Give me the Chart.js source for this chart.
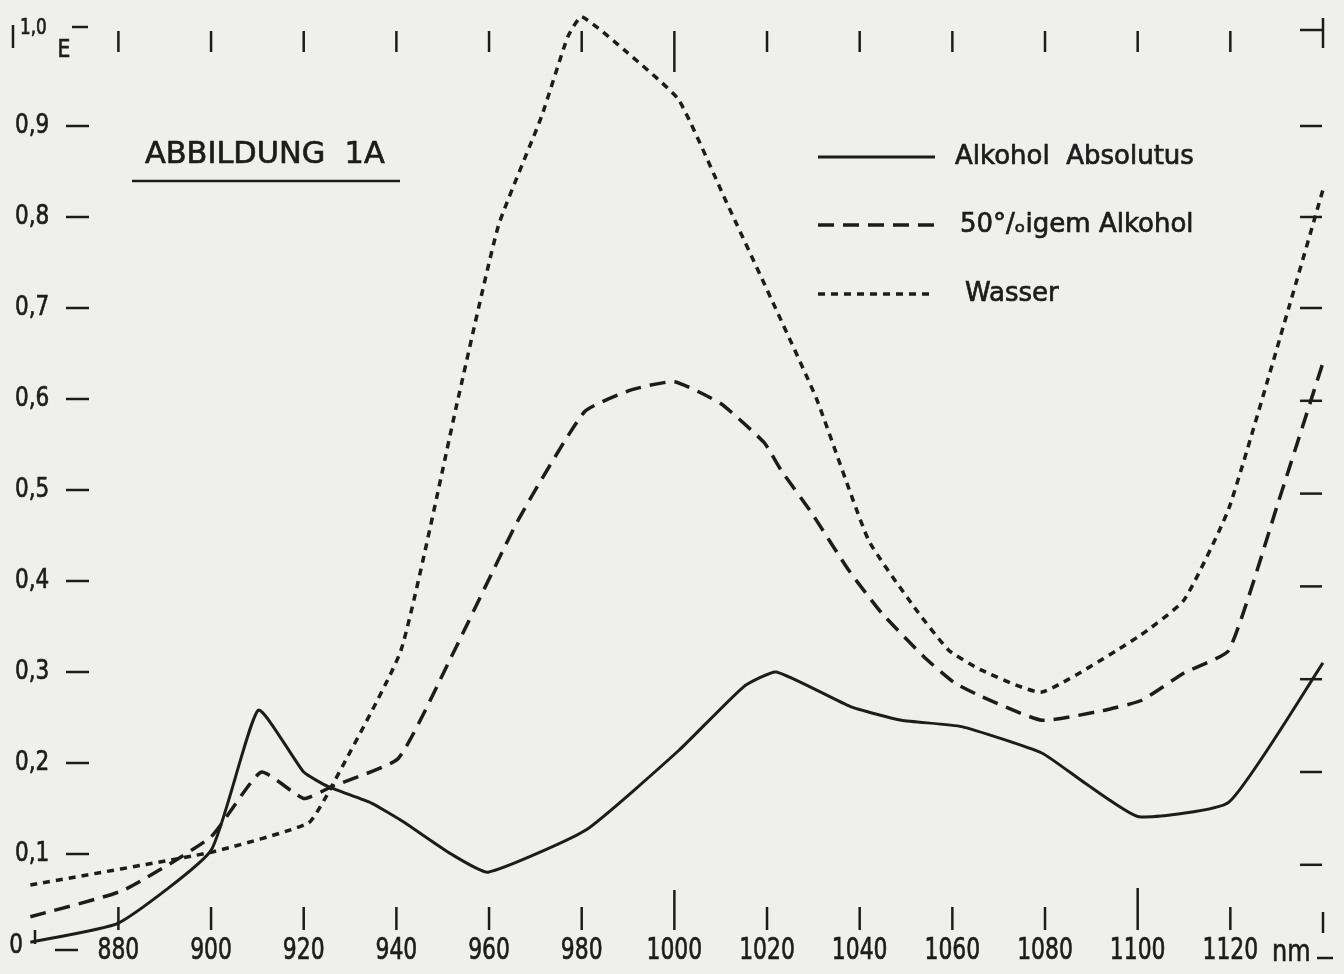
<!DOCTYPE html>
<html>
<head>
<meta charset="utf-8">
<title>Abbildung 1A</title>
<script src="https://cdn.jsdelivr.net/npm/chart.js@4"></script>
<style>
  html, body { margin: 0; padding: 0; background: #efefed; }
  canvas { display: block; }
</style>
</head>
<body>
<canvas id="spectrum-chart" width="1344" height="974"></canvas>
<script>
// Wavelength (nm) and extinction E
const absolutusNm = [861, 880, 900, 910.2, 920, 925.3, 934.6, 941, 951.8, 959.8, 980.8, 1001, 1015, 1022, 1038, 1049, 1062, 1079.3, 1088.6, 1100.2, 1119.7, 1140];
const absolutusE = [0.003, 0.024, 0.104, 0.258, 0.19, 0.174, 0.156, 0.137, 0.10, 0.08, 0.126, 0.214, 0.284, 0.30, 0.262, 0.247, 0.24, 0.211, 0.178, 0.141, 0.157, 0.31];

const halfNm = [861, 881, 900, 910.8, 920, 926, 940.4, 951.8, 966.3, 980.6, 990.7, 1000, 1010, 1019.4, 1023, 1029.6, 1037.6, 1044.7, 1054, 1060.5, 1066.3, 1079.3, 1092.9, 1100.9, 1110, 1119.7, 1130.5, 1140];
const halfE = [0.031, 0.06, 0.119, 0.19, 0.161, 0.174, 0.205, 0.316, 0.467, 0.586, 0.61, 0.619, 0.595, 0.552, 0.522, 0.475, 0.412, 0.365, 0.316, 0.288, 0.273, 0.247, 0.258, 0.269, 0.299, 0.324, 0.489, 0.64];

const wasserNm = [861, 900, 921, 926, 941, 953.3, 962, 971.3, 977, 980, 990, 1000.9, 1011, 1021, 1030.7, 1041.9, 1051.8, 1059.2, 1066.3, 1079.3, 1100.2, 1110, 1119.7, 1132.6, 1140];
const wasserE = [0.066, 0.102, 0.134, 0.174, 0.324, 0.60, 0.79, 0.91, 0.998, 1.02, 0.98, 0.929, 0.819, 0.709, 0.60, 0.445, 0.371, 0.324, 0.302, 0.278, 0.339, 0.379, 0.48, 0.70, 0.83];

const seriesNames = ["Alkohol  Absolutus", "50°/ₒigem Alkohol", "Wasser"];

const xTicks = [880, 900, 920, 940, 960, 980, 1000, 1020, 1040, 1060, 1080, 1100, 1120];
const yTicks = [0.1, 0.2, 0.3, 0.4, 0.5, 0.6, 0.7, 0.8, 0.9];
const yTickLabels = ["0,1", "0,2", "0,3", "0,4", "0,5", "0,6", "0,7", "0,8", "0,9"];

const INK = "#1c1c1c";

function toPoints(xs, ys) {
    return xs.map((x, i) => ({ x: x, y: ys[i] }));
}

// text squeezed horizontally, the scan uses a narrow DIN style face
function drawText(ctx, s, x, y, size, sx, align) {
    ctx.save();
    ctx.font = size + 'px "DejaVu Sans"';
    ctx.textBaseline = "middle";
    ctx.textAlign = align || "center";
    ctx.translate(x, y);
    ctx.scale(sx, 1);
    ctx.fillText(s, 0, 0);
    ctx.lineWidth = 0.7;
    ctx.strokeText(s, 0, 0);
    ctx.restore();
}

function line(ctx, x1, y1, x2, y2, w) {
    ctx.beginPath();
    ctx.lineWidth = w || 2.5;
    ctx.moveTo(x1, y1);
    ctx.lineTo(x2, y2);
    ctx.stroke();
}

const figurePlugin = {
    id: "figure",
    afterDatasetsDraw(chart) {
        const ctx = chart.ctx;
        const xs = chart.scales.x;
        const ys = chart.scales.y;
        ctx.save();
        ctx.fillStyle = INK;
        ctx.strokeStyle = INK;
        ctx.setLineDash([]);
        ctx.lineCap = "butt";

        // left axis: labels and dashes
        yTicks.forEach((v, i) => {
            const py = ys.getPixelForValue(v);
            drawText(ctx, yTickLabels[i], 15, py, 27, 0.8, "left");
            line(ctx, 66, py, 89, py);
        });
        drawText(ctx, "0", 16, 946, 27, 0.8, "center");
        line(ctx, 35, 930, 35, 944);
        line(ctx, 55, 950, 78, 950);
        drawText(ctx, "1,0", 20, 29, 21, 0.8, "left");
        drawText(ctx, "E", 64, 51, 24, 0.85, "center");
        line(ctx, 72, 27, 88, 27);
        line(ctx, 13, 25, 13, 48);

        // right axis dashes (the drawing is slightly tilted)
        yTicks.forEach((v) => {
            const py = ys.getPixelForValue(v) + Math.max(0, 0.7 - v) * 18;
            line(ctx, 1300, py, 1322, py);
        });
        line(ctx, 1300, 30, 1323, 30);
        line(ctx, 1323, 18, 1323, 48);

        // top and bottom tick marks, bottom labels
        xTicks.forEach((v) => {
            const px = xs.getPixelForValue(v);
            line(ctx, px, 31, px, v === 1000 ? 72 : 52);
            const top = v === 1000 ? 890 : (v === 1100 ? 888 : 907);
            line(ctx, px, top, px, 930);
            drawText(ctx, String(v), px, 951, 30, 0.73, "center");
        });
        const pEnd = xs.getPixelForValue(xs.max);
        line(ctx, pEnd, 912, pEnd, 933);
        drawText(ctx, "nm", 1272, 953, 30, 0.8, "left");
        line(ctx, 1317, 958, 1333, 958);

        // title
        drawText(ctx, "ABBILDUNG  1A", 145, 155, 31, 0.98, "left");
        line(ctx, 132, 181, 400, 181, 2.5);

        // legend built from the datasets' own styles
        const rows = [157, 225, 294];
        const textX = [955, 960, 965];
        chart.data.datasets.forEach((ds, i) => {
            ctx.save();
            ctx.setLineDash(ds.borderDash || []);
            line(ctx, 818, rows[i], 935, rows[i], ds.borderWidth);
            ctx.restore();
            drawText(ctx, ds.label, textX[i], rows[i], 26, 1.0, "left");
        });
        ctx.restore();
    }
};

const config = {
    type: "line",
    data: {
        datasets: [
            {
                label: seriesNames[0],
                data: toPoints(absolutusNm, absolutusE),
                borderColor: INK,
                borderWidth: 3,
                borderDash: [],
            },
            {
                label: seriesNames[1],
                data: toPoints(halfNm, halfE),
                borderColor: INK,
                borderWidth: 3.5,
                borderDash: [16, 9],
            },
            {
                label: seriesNames[2],
                data: toPoints(wasserNm, wasserE),
                borderColor: INK,
                borderWidth: 3.5,
                borderDash: [7, 6],
            },
        ],
    },
    options: {
        responsive: false,
        animation: false,
        devicePixelRatio: 1,
        layout: { padding: { left: 35, right: 21, top: 35, bottom: 29 } },
        elements: {
            point: { radius: 0 },
            line: { tension: 0.15, fill: false },
        },
        datasets: { line: { clip: false } },
        scales: {
            x: { type: "linear", min: 862, max: 1140, display: false },
            y: { type: "linear", min: 0, max: 1, display: false },
        },
        plugins: {
            legend: { display: false },
            tooltip: { enabled: false },
        },
    },
    plugins: [figurePlugin],
};

new Chart(document.getElementById("spectrum-chart").getContext("2d"), config);
</script>
</body>
</html>
